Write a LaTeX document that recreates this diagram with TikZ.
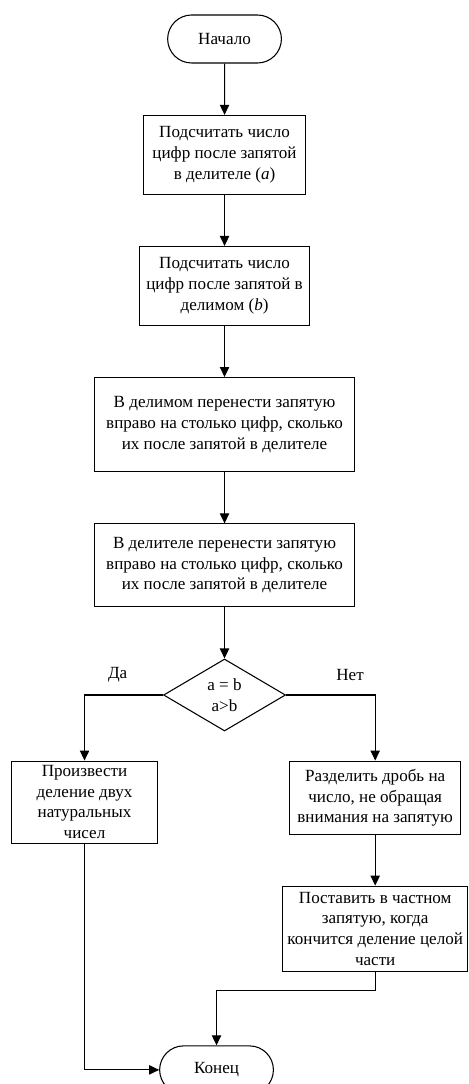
\documentclass[tikz,border=0pt]{standalone}
\usepackage{fontspec}
\setmainfont{Liberation Serif}
\usetikzlibrary{shapes.geometric, shapes.misc, arrows.meta, chains, positioning}
\tikzset{
  reg/.style={
    rectangle,
    minimum height=59pt,
    inner sep=2pt,
    align=center,
    draw=black,
    line width=0.8pt
  },
  term/.style={
    rounded rectangle,
    minimum width=92pt,
    minimum height=36pt,
    align=center,
    draw=black,
    line width=0.8pt
  },
  cond/.style={
    diamond,
    aspect=1.7,
    minimum width=91.5pt,
    minimum height=54pt,
    inner sep=0pt,
    align=center,
    draw=black,
    line width=0.8pt
  },
  arrow/.style={line width=0.8pt,-{Triangle[length=7.5pt,width=7pt]}},
  lbl/.style={inner sep=0pt}
}

\begin{document}
\begin{tikzpicture}[
    start chain=going below,
    every join/.style={arrow},
    node distance=38.5pt,
    font=\fontsize{12.8pt}{15.5pt}\selectfont
    ]
    \useasboundingbox (-168.4pt,29.25pt) rectangle (182.6pt,-783.75pt);
    \node (s0) [term, on chain] {Начало};
    \node (s1) [reg, minimum width=121pt, on chain, join] {Подсчитать число\\цифр после запятой\\в делителе (\textit{a})};
    \node (s2) [reg, minimum width=128pt, on chain, join] {Подсчитать число\\цифр после запятой в\\делимом (\textit{b})};
    \node (s3) [reg, minimum width=195pt, minimum height=70.5pt, on chain, join] {В делимом перенести запятую\\вправо на столько цифр, сколько\\их после запятой в делителе};
    \node (s4) [reg, minimum width=195pt, minimum height=62pt, on chain, join] {В делителе перенести запятую\\вправо на столько цифр, сколько\\их после запятой в делителе};
    \node (s5) [cond, on chain, join] {a = b\\a>b};
    % branches
    \node (s6) [reg, minimum width=109.5pt, minimum height=61.5pt, below=21.75pt of s5, xshift=-105pt] {Произвести\\деление двух\\натуральных\\чисел};
    \node (s7) [reg, minimum width=128pt, minimum height=55pt, below=21.75pt of s5, xshift=113pt] {Разделить дробь на\\число, не обращая\\внимания на запятую};
    \node (s8) [reg, minimum width=139pt, minimum height=64pt, below=38pt of s7] {Поставить в частном\\запятую, когда\\кончится деление целой\\части};
    \node (s9) [term, below=55pt of s8, xshift=-119pt] {Конец};
    \node (yes) [lbl] at ([xshift=-34pt,yshift=15pt]s5.west) {Да};
    \node (no) [lbl] at ([xshift=48pt,yshift=15pt]s5.east) {Нет};
    \coordinate (m) at ([yshift=-14pt]s8.south);
    \draw [arrow] (s5.west) -| (s6.north);
    \draw [arrow] (s5.east) -| (s7.north);
    \draw [arrow] (s7) -- (s8);
    \draw [arrow] (s8.south) -- (m) -| (s9.north);
    \draw [arrow] (s6.south) |- (s9.west);
  \end{tikzpicture}
\end{document}
